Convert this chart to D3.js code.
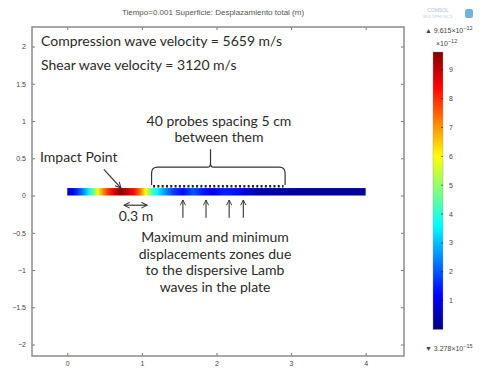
<!DOCTYPE html>
<html>
<head>
<meta charset="utf-8">
<script src="https://cdn.jsdelivr.net/npm/d3@7"></script>
<style>
  body { margin: 0; background: white; }
  text { font-family: "Liberation Sans", Arial, sans-serif; }
  .note { font-family: Lato, "Open Sans", sans-serif; fill: #2b2b2b; }
</style>
</head>
<body>
<svg width="481" height="370"></svg>
<script>
// displacement magnitude along the plate (x in m, value in 1e-12 m)
const profileX   = [0, 0.08, 0.2, 0.29, 0.35, 0.41, 0.48, 0.55, 0.64, 0.72, 0.8, 0.9, 0.98, 1.05, 1.12, 1.2, 1.3, 1.42, 1.55, 1.69, 1.82, 1.96, 2.1, 2.23, 2.37, 2.55, 3.0, 4.0]
const profileVal = [0.5, 1.2, 2.3, 3.5, 4.6, 5.9, 7.1, 8.0, 8.8, 9.5, 9.0, 8.3, 7.3, 6.0, 4.6, 3.6, 2.7, 1.8, 1.3, 2.0, 1.4, 1.0, 1.5, 1.4, 0.9, 0.5, 0.3, 0.3]

const xTicks = [0, 1, 2, 3, 4]
const yTicks = [-2, -1.5, -1, -0.5, 0, 0.5, 1, 1.5, 2]
const cbTicks = [1, 2, 3, 4, 5, 6, 7, 8, 9]
const valMax = 9.615
const plate = {x0: 0, x1: 4, y0: 0, y1: 0.1}
const arrowsX = [1.55, 1.86, 2.17, 2.36]

const svg = d3.select('svg');
svg.style('background-color', 'white');
const width = +svg.attr('width')
const height = +svg.attr('height')
const margin = {top: 27, right: 77, bottom: 14, left: 32}

const xScale = d3.scaleLinear().domain([-0.473, 4.514]).range([margin.left, width - margin.right])
const yScale = d3.scaleLinear().domain([-2.154, 2.262]).range([height - margin.bottom, margin.top])

// jet colormap
const jet = d3.scaleLinear()
  .domain([0, 0.125, 0.375, 0.625, 0.875, 1].map(f => f * valMax))
  .range(['#00007f', '#0000ff', '#00ffff', '#ffff00', '#ff0000', '#7f0000'])
  .clamp(true)

const defs = svg.append('defs')
const pg = defs.append('linearGradient').attr('id', 'plateGrad')
  .attr('gradientUnits', 'userSpaceOnUse')
  .attr('x1', xScale(plate.x0)).attr('x2', xScale(plate.x1)).attr('y1', 0).attr('y2', 0)
pg.selectAll('stop').data(profileX).enter().append('stop')
  .attr('offset', (d) => (d - plate.x0) / (plate.x1 - plate.x0))
  .attr('stop-color', (d, i) => jet(profileVal[i]))

const arrowDefs = (id, orient) => defs.append('marker').attr('id', id)
  .attr('viewBox', '0 0 10 10').attr('refX', 9).attr('refY', 5)
  .attr('markerWidth', 6).attr('markerHeight', 6).attr('orient', orient)
  .append('path').attr('d', 'M1,1 L9,5 L1,9').attr('fill', 'none').attr('stroke', '#333').attr('stroke-width', 1.4)
arrowDefs('arr', 'auto')
arrowDefs('arrStart', 'auto-start-reverse')

// title
svg.append('text').attr('x', 213).attr('y', 15).attr('text-anchor', 'middle')
  .attr('font-size', 8).attr('fill', '#555')
  .text('Tiempo=0.001  Superficie: Desplazamiento total (m)')

// logo
svg.append('text').attr('x', 438).attr('y', 12).attr('text-anchor', 'middle')
  .attr('font-size', 5).attr('fill', '#a9c4de').text('COMSOL')
svg.append('text').attr('x', 438).attr('y', 18).attr('text-anchor', 'middle')
  .attr('font-size', 4).attr('fill', '#b8cfe4').text('MULTIPHYSICS')
svg.append('rect').attr('x', 465).attr('y', 9).attr('width', 8).attr('height', 9).attr('rx', 2)
  .attr('fill', '#4f9fd6').attr('opacity', 0.8)

// axes (ticks inward on all four sides)
const fmt = d3.format('')
const tickTxt = g => g.selectAll('text').attr('font-size', 7).attr('fill', '#444')
const axisStyle = g => { g.select('.domain').remove(); g.selectAll('line').attr('stroke', '#777'); }
svg.append('g').attr('transform', `translate(0,${yScale.range()[0]})`)
  .call(d3.axisBottom(xScale).tickValues(xTicks).tickSize(-3).tickPadding(5).tickFormat(fmt))
  .call(axisStyle).call(tickTxt)
svg.append('g').attr('transform', `translate(0,${yScale.range()[1]})`)
  .call(d3.axisTop(xScale).tickValues(xTicks).tickSize(-3).tickFormat(''))
  .call(axisStyle)
svg.append('g').attr('transform', `translate(${xScale.range()[0]},0)`)
  .call(d3.axisLeft(yScale).tickValues(yTicks).tickSize(-3).tickPadding(6).tickFormat(fmt))
  .call(axisStyle).call(tickTxt)
svg.append('g').attr('transform', `translate(${xScale.range()[1]},0)`)
  .call(d3.axisRight(yScale).tickValues(yTicks).tickSize(-3).tickFormat(''))
  .call(axisStyle)

svg.append('rect')
  .attr('x', xScale.range()[0]).attr('y', yScale.range()[1])
  .attr('width', xScale.range()[1] - xScale.range()[0])
  .attr('height', yScale.range()[0] - yScale.range()[1])
  .attr('fill', 'none').attr('stroke', '#8c8c8c').attr('stroke-width', 1.5)

// plate
svg.append('rect')
  .attr('x', xScale(plate.x0)).attr('y', yScale(plate.y1))
  .attr('width', xScale(plate.x1) - xScale(plate.x0))
  .attr('height', yScale(plate.y0) - yScale(plate.y1))
  .attr('fill', 'url(#plateGrad)')

// probes row
svg.append('line')
  .attr('x1', xScale(1.15)).attr('x2', xScale(2.9))
  .attr('y1', yScale(0.125)).attr('y2', yScale(0.125))
  .attr('stroke', '#222').attr('stroke-width', 2.5).attr('stroke-dasharray', '2,2.3')

// brace over probes
const bL = xScale(1.13), bR = xScale(2.92), bC = xScale(1.92)
const bB = yScale(0.14), bH = yScale(0.38), bP = yScale(0.62), r = 6
svg.append('path')
  .attr('d', `M${bL},${bB} L${bL},${bH + r} Q${bL},${bH} ${bL + r},${bH} L${bC - 3},${bH} Q${bC},${bH} ${bC},${bH - 4} L${bC},${bP}
              M${bR},${bB} L${bR},${bH + r} Q${bR},${bH} ${bR - r},${bH} L${bC + 3},${bH} Q${bC},${bH} ${bC},${bH - 4}`)
  .attr('fill', 'none').attr('stroke', '#333').attr('stroke-width', 1.2)

// impact point arrow
svg.append('line')
  .attr('x1', xScale(0.49)).attr('y1', yScale(0.35))
  .attr('x2', xScale(0.72)).attr('y2', yScale(0.1))
  .attr('stroke', '#333').attr('stroke-width', 1.2).attr('marker-end', 'url(#arr)')

// 0.3 m double arrow
svg.append('line')
  .attr('x1', xScale(0.76)).attr('x2', xScale(1.07))
  .attr('y1', yScale(-0.13)).attr('y2', yScale(-0.13))
  .attr('stroke', '#333').attr('stroke-width', 1.2)
  .attr('marker-start', 'url(#arrStart)').attr('marker-end', 'url(#arr)')

// up arrows to max/min zones
svg.selectAll('.up').data(arrowsX).enter().append('line').attr('class', 'up')
  .attr('x1', d => xScale(d)).attr('x2', d => xScale(d))
  .attr('y1', yScale(-0.3)).attr('y2', yScale(-0.06))
  .attr('stroke', '#333').attr('stroke-width', 1.1).attr('marker-end', 'url(#arr)')

// annotation texts
const note = (x, y, t, anchor) => svg.append('text').attr('class', 'note')
  .attr('x', x).attr('y', y).attr('text-anchor', anchor || 'start')
  .attr('font-size', 14).attr('dy', '0.35em').text(t)
note(41, 41, 'Compression wave velocity = 5659 m/s')
note(41, 65, 'Shear wave velocity = 3120 m/s')
note(40, 157, 'Impact Point')
note(219, 121, '40 probes spacing 5 cm', 'middle')
note(219, 137, 'between them', 'middle')
note(136, 216, '0.3 m', 'middle')
const lines = ['Maximum and minimum', 'displacements zones due', 'to the dispersive  Lamb', 'waves in the plate']
lines.forEach((t, i) => note(215, 237 + i * 16.7, t, 'middle'))

// colorbar
const cbScale = d3.scaleLinear().domain([0, valMax]).range([329.5, 52])
const cbX = 433, cbW = 10
const cg = defs.append('linearGradient').attr('id', 'cbGrad')
  .attr('x1', 0).attr('x2', 0).attr('y1', 1).attr('y2', 0)
cg.selectAll('stop').data(jet.domain()).enter().append('stop')
  .attr('offset', d => d / valMax).attr('stop-color', d => jet(d))
svg.append('rect').attr('x', cbX).attr('y', cbScale(valMax))
  .attr('width', cbW).attr('height', cbScale(0) - cbScale(valMax))
  .attr('fill', 'url(#cbGrad)').attr('stroke', '#999').attr('stroke-width', 0.4)
svg.append('g').selectAll('line').data(cbTicks).enter().append('line')
  .attr('x1', cbX + cbW - 2).attr('x2', cbX + cbW)
  .attr('y1', d => cbScale(d)).attr('y2', d => cbScale(d))
  .attr('stroke', '#000').attr('stroke-opacity', 0.5)
svg.append('g').selectAll('text').data(cbTicks).enter().append('text')
  .attr('x', 449).attr('y', d => cbScale(d)).attr('dy', '0.35em')
  .attr('font-size', 7).attr('fill', '#444').text(d => d)

const sup = (x, y, pre, exp) => {
  const t = svg.append('text').attr('x', x).attr('y', y).attr('font-size', 7).attr('fill', '#444')
  t.append('tspan').text(pre)
  t.append('tspan').attr('dy', -3).attr('font-size', 5.5).text(exp)
}
sup(425, 33, '\u25B2 9.615\u00D710', '\u221212')
sup(436, 46, '\u00D710', '\u221212')
sup(425, 351, '\u25BC 3.278\u00D710', '\u221215')
</script>
</body>
</html>
